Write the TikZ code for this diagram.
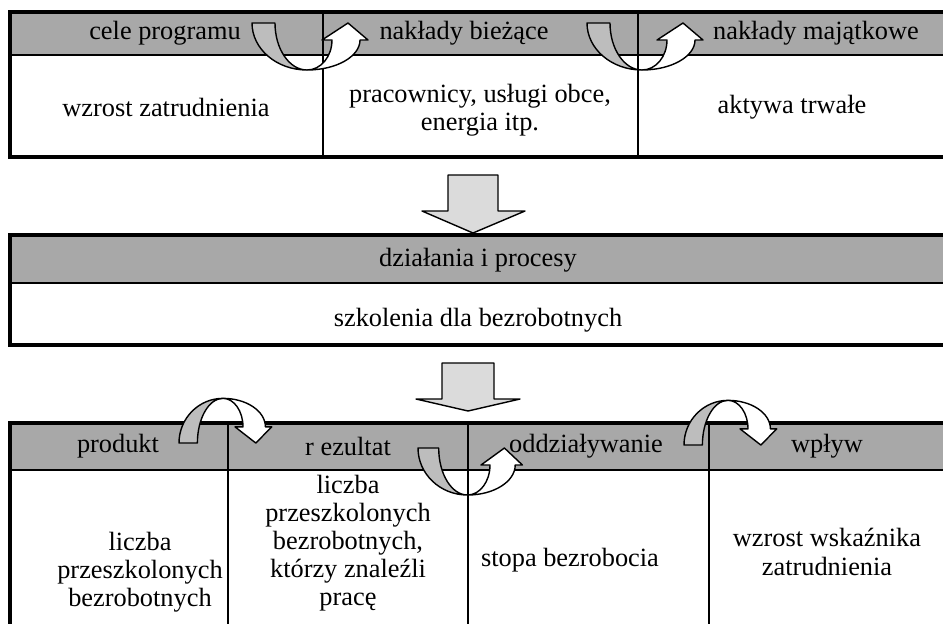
\documentclass[tikz,border=0pt]{standalone}
\usepackage{fontspec}
\setmainfont{Liberation Serif}
\definecolor{headgray}{gray}{0.66}
\definecolor{bandgray}{gray}{0.74}
\definecolor{blockgray}{gray}{0.86}
\tikzset{
  frame/.style={line width=2.2pt},
  rule/.style={line width=1.6pt},
  outline/.style={line width=0.8pt, line join=round},
  txt/.style={font=\fontsize{15}{16}\selectfont, align=center, inner sep=0pt},
  uturn/.pic={
    \filldraw[outline, fill=white] (55,47) arc[start angle=90, end angle=0, x radius=53, y radius=30]
      -- (116,17) -- (96,0) -- (70,17) -- (80,17)
      arc[start angle=0, end angle=90, x radius=25, y radius=30] -- cycle;
    \filldraw[outline, fill=bandgray] (0,0) arc[start angle=180, end angle=90, x radius=55, y radius=47]
      arc[start angle=90, end angle=180, x radius=32, y radius=47] -- cycle;
  }
}
\begin{document}
\begin{tikzpicture}[x=0.02cm, y=-0.02cm]
  \useasboundingbox (0,0) rectangle (943,623);
  \clip (0,0) rectangle (943,623);

  % inputs
  \fill[headgray] (10,12) rectangle (960,55);
  \draw[rule] (10,55) -- (960,55);
  \foreach \x in {323,638}
  {
    \draw[rule] (\x,12) -- (\x,157);
  }
  \draw[frame] (10,12) rectangle (960,157);
  \node[txt] (cele) at (165,33) {cele programu};
  \node[txt] (biezace) at (464,33) {nakłady bieżące};
  \node[txt] (majatkowe) at (816,33) {nakłady majątkowe};
  \node[txt] (zatrud) at (166,107) {wzrost zatrudnienia};
  \node[txt] (pracownicy) at (480,110) {pracownicy, usługi obce,\\energia itp.};
  \node[txt] (aktywa) at (792,107) {aktywa trwałe};
  \pic at (252,23) {uturn};
  \pic at (587,23) {uturn};

  \filldraw[outline, fill=blockgray] (448,175) -- (498,175) -- (498,211) -- (525,211)
    -- (473,233) -- (422,211) -- (448,211) -- cycle;

  % processes
  \fill[headgray] (10,235) rectangle (960,283);
  \draw[rule] (10,283) -- (960,283);
  \draw[frame] (10,235) rectangle (960,345);
  \node[txt] (dzialania) at (478,260) {działania i procesy};
  \node[txt] (szkolenia) at (478,320) {szkolenia dla bezrobotnych};

  \filldraw[outline, fill=blockgray] (442,363) -- (494,363) -- (494,399) -- (520,399)
    -- (468,411) -- (416,399) -- (442,399) -- cycle;

  % effects
  \fill[headgray] (10,423) rectangle (960,470);
  \draw[rule] (10,470) -- (960,470);
  \foreach \x in {228,468,709}
  {
    \draw[rule] (\x,423) -- (\x,660);
  }
  \draw[frame] (10,423) rectangle (960,660);
  \node[txt] (produkt) at (118,446) {produkt};
  \node[txt] (rezultat) at (348,446) {r ezultat};
  \node[txt] (oddzial) at (586,446) {oddziaływanie};
  \node[txt] (wplyw) at (827,446) {wpływ};
  \node[txt] (liczba) at (140,572) {liczba\\przeszkolonych\\bezrobotnych};
  \node[txt] (znalezli) at (348,543) {liczba\\przeszkolonych\\bezrobotnych,\\którzy znaleźli\\pracę};
  \node[txt] (stopa) at (570,560) {stopa bezrobocia};
  \node[txt] (wskaznik) at (827,552) {wzrost wskaźnika\\zatrudnienia};
  \pic[xscale=0.8, yscale=-0.95] at (179,443) {uturn};
  \pic[xscale=0.9] at (418,448) {uturn};
  \pic[xscale=0.8, yscale=-0.95] at (684,445) {uturn};
\end{tikzpicture}
\end{document}
